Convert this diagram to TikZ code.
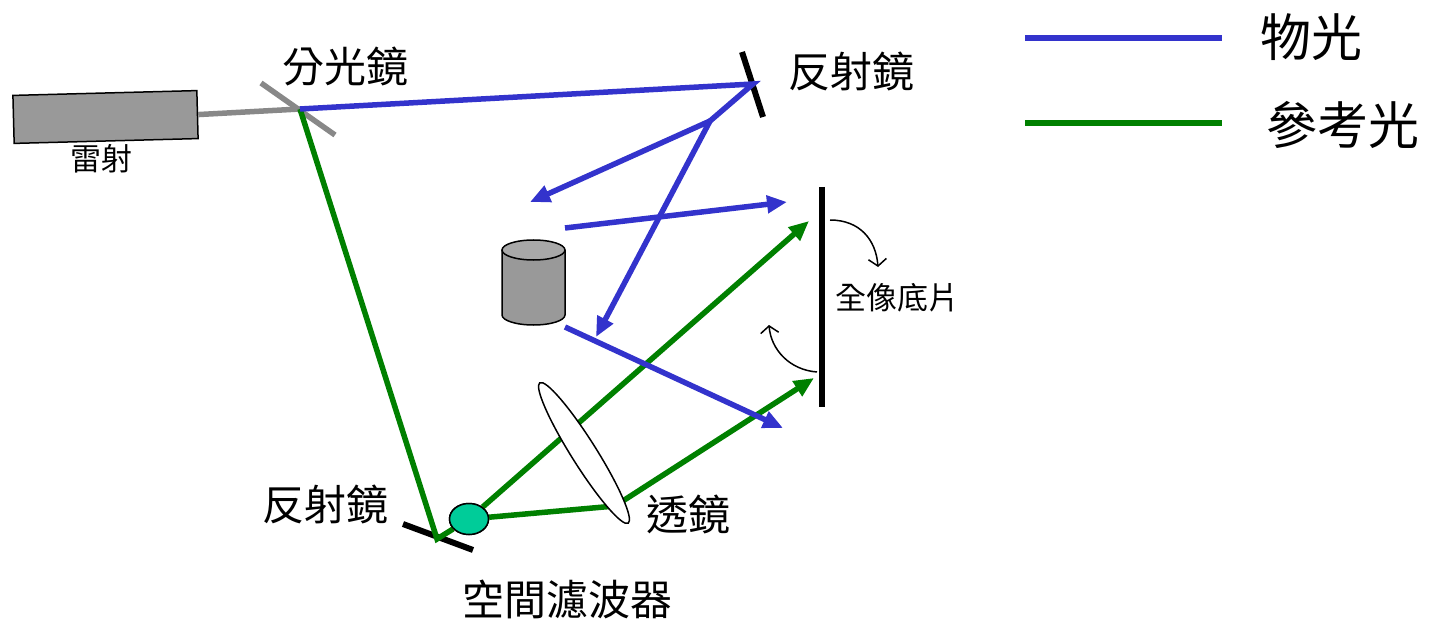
\documentclass[tikz,border=0pt]{standalone}
\usepackage{fontspec}
\setmainfont{Noto Sans CJK TC}
\usepackage{tikz}
\usetikzlibrary{positioning, arrows.meta, shapes}

\definecolor{objblue}{RGB}{51,51,204}
\definecolor{refgreen}{RGB}{0,128,0}
\definecolor{lasergray}{RGB}{153,153,153}
\definecolor{beamgray}{RGB}{136,136,136}
\definecolor{pinhole}{RGB}{0,204,153}

\tikzset{
  objbeam/.style={objblue, line width=5.5pt},
  refbeam/.style={refgreen, line width=5.5pt},
  tip/.style={-{Triangle[length=20pt,width=17pt]}},
  mirror/.style={black, line width=6pt},
  lbl/.style={font=\fontsize{42}{42}\selectfont, inner sep=0pt},
  smalllbl/.style={font=\fontsize{31}{31}\selectfont, inner sep=0pt},
  legendlbl/.style={font=\fontsize{51}{51}\selectfont, inner sep=0pt},
  turn/.style={black, line width=1.5pt, -{Straight Barb[length=7pt,width=18pt]}}
}

\begin{document}
\begin{tikzpicture}[x=1pt, y=-1pt]
\useasboundingbox (0,0) rectangle (1431,620);

% laser and beam splitter
\node[draw, line width=1.5pt, fill=lasergray, rotate=1.5, minimum width=184pt, minimum height=48pt, inner sep=0pt] (laser) at (105.5,117) {};
\node[smalllbl] (lasertext) at (101,159) {雷射};
\coordinate (bs) at (300,109);
\draw[beamgray, line width=5.5pt] (laser.east) -- (bs);
\draw[beamgray, line width=5.5pt] (261,83) -- (335,135);
\node[lbl] (bstext) at (345,67) {分光鏡};

% mirrors and film
\coordinate (m1) at (753,84);
\coordinate (m2) at (437,539);
\draw[mirror] (742,52) -- (763,117);
\draw[mirror] (403,524) -- (473,550);
\node[lbl] (m1text) at (851,71) {反射鏡};
\node[lbl] (m2text) at (325,504) {反射鏡};
\draw[black, line width=5.5pt] (822,187) -- (822,407);
\node[smalllbl] (filmtext) at (897,298) {全像底片};

% reference beam
\node[draw, line width=1.5pt, fill=pinhole, ellipse, minimum width=39pt, minimum height=31pt, inner sep=0pt] (filter) at (469,519) {};
\coordinate (lenshit) at (615,506);
\coordinate (ref1) at (809,221);
\coordinate (ref2) at (814,378);
\draw[refbeam] (bs) -- (m2) -- (filter);
\draw[refbeam, tip] (filter) -- (ref1);
\draw[refbeam, tip] (filter) -- (lenshit) -- (ref2);
\node[draw, line width=1.5pt, fill=white, ellipse, rotate=-57.8, minimum width=166pt, minimum height=25pt, inner sep=0pt] (lens) at (584,453) {};
\node[draw, line width=1.5pt, fill=pinhole, ellipse, minimum width=39pt, minimum height=31pt, inner sep=0pt] at (filter) {};
\node[lbl] (lenstext) at (688,514) {透鏡};
\node[lbl] (filtertext) at (567,599) {空間濾波器};

% object
\draw[line width=1.5pt, fill=lasergray] (502,250) -- (502,315) arc[start angle=180, end angle=360, x radius=31.5pt, y radius=10pt] -- (565,250);
\draw[line width=1.5pt, fill=lasergray!85] (533.5,250) ellipse[x radius=31.5pt, y radius=10pt];

% object beam
\coordinate (split) at (710,121);
\coordinate (obj1) at (530,202);
\coordinate (obj2) at (596,337);
\coordinate (scat1) at (565,228);
\coordinate (scat1end) at (787,202);
\coordinate (scat2) at (565,327);
\coordinate (scat2end) at (783,428);
\draw[objbeam] (bs) -- (m1) -- (split);
\draw[objbeam, tip] (split) -- (obj1);
\draw[objbeam, tip] (split) -- (obj2);
\draw[objbeam, tip] (scat1) -- (scat1end);
\draw[objbeam, tip] (scat2) -- (scat2end);

% turning of the film
\draw[turn] (830,220) .. controls (860,220) and (876,240) .. (878,267);
\draw[turn] (817,372) .. controls (790,370) and (771,350) .. (769,325);

% legend
\coordinate (la) at (1025,38);
\coordinate (lb) at (1222,38);
\coordinate (lc) at (1025,123);
\coordinate (ld) at (1222,123);
\draw[objbeam, line width=6pt] (la) -- (lb);
\draw[refbeam, line width=6pt] (lc) -- (ld);
\node[legendlbl] (objtext) at (1311,37) {物光};
\node[legendlbl] (reftext) at (1343,125) {參考光};
\end{tikzpicture}
\end{document}
